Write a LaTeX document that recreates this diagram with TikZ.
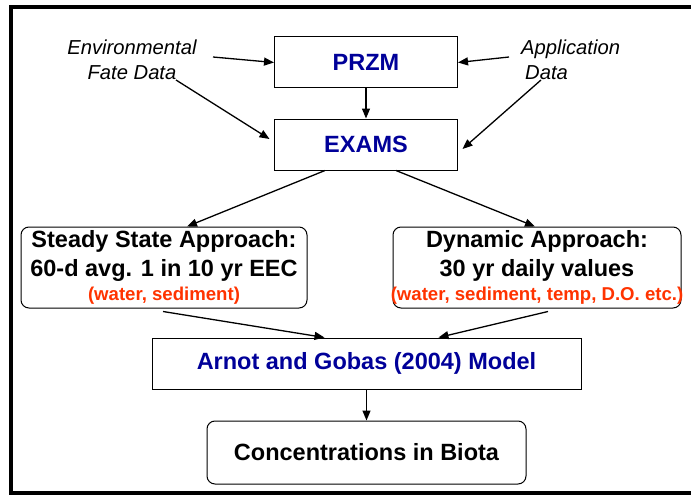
\documentclass[tikz,border=0pt]{standalone}
\usepackage{fontspec}
\setmainfont{Liberation Sans}
\usepackage{xcolor}
\usetikzlibrary{arrows.meta,positioning,calc}
\definecolor{azulEscuro}{RGB}{0,0,153}
\definecolor{laranja}{RGB}{255,51,0}
\newcommand{\notaVermelha}[1]{{\fontsize{18.6}{22}\selectfont\color{laranja}#1}}
\tikzset{
    caixa/.style={
        rectangle,
        draw,
        line width=1pt,
        align=center,
        inner sep=0pt,
        font=\fontsize{23.5}{29}\selectfont\bfseries
    },
    modelo/.style={caixa, text=azulEscuro},
    resultado/.style={caixa, rounded corners=8pt},
    dados/.style={
        align=center,
        inner sep=0pt,
        font=\fontsize{20.2}{25}\selectfont\itshape
    },
    seta/.style={-{Triangle[length=10pt,width=8pt]}, line width=1.3pt}
}

\begin{document}
\begin{tikzpicture}[x=1pt, y=-1pt, node distance=30pt and 1cm]
        \useasboundingbox (0,0) rectangle (691,495);
        \draw[line width=4pt] (11,7) rectangle (720,493);
        % modelos de exposicao
        \node[modelo, minimum width=183pt, minimum height=51pt] (przm) at (366,62.5)
            {PRZM};
        \node[modelo, minimum width=183pt, minimum height=51pt, below=of przm] (exams)
            {EXAMS};
        \node[dados] (dadosAmb) at (132,59.5)
            {Environmental\\Fate Data};
        \node[dados, anchor=west, align=left] (dadosApl) at (521,59.5)
            {Application\\\hspace*{4pt}Data};
        % abordagens
        \node[resultado, minimum width=286pt, minimum height=81pt] (estavel) at (164,267.5)
            {Steady State Approach:\\60-d avg. 1 in 10 yr EEC\\[-5.6pt]\notaVermelha{(water, sediment)}};
        \node[resultado, minimum width=288pt, minimum height=81pt] (dinamico) at (537,267.5)
            {Dynamic Approach:\\30 yr daily values\\[-5.6pt]\makebox[0pt]{\notaVermelha{(water, sediment, temp, D.O. etc.)}}};
        \node[modelo, minimum width=429pt, minimum height=51pt] (arnot) at (366.5,363.5)
            {Arnot and Gobas (2004) Model};
        \node[resultado, minimum width=319pt, minimum height=63pt, below=31pt of arnot] (biota)
            {Concentrations in Biota};
        % ligacoes
        \draw[seta] ($(dadosAmb.center)+(81,-2.5)$) -- (przm.west);
        \draw[seta] ($(dadosAmb.center)+(44,20.5)$) -- ($(exams.west)+(-4.5,-5.5)$);
        \draw[seta] ($(dadosApl.west)+(-12,-2.5)$) -- (przm.east);
        \draw[seta] ($(dadosApl.west)+(20,20.5)$) -- ($(exams.east)+(4.5,4.5)$);
        \draw[seta] (przm) -- (exams);
        \draw[seta] ($(exams.south)+(-41,0)$) -- ($(estavel.north)+(23,0)$);
        \draw[seta] ($(exams.south)+(30,0)$) -- ($(dinamico.north)+(-2,0)$);
        \draw[seta] ($(estavel.south)+(-1,3)$) -- ($(arnot.north)+(-42,0)$);
        \draw[seta] ($(dinamico.south)+(11,3)$) -- ($(arnot.north)+(72,0)$);
        \draw[seta] (arnot) -- (arnot.south |- biota.north);
    \end{tikzpicture}
\end{document}
